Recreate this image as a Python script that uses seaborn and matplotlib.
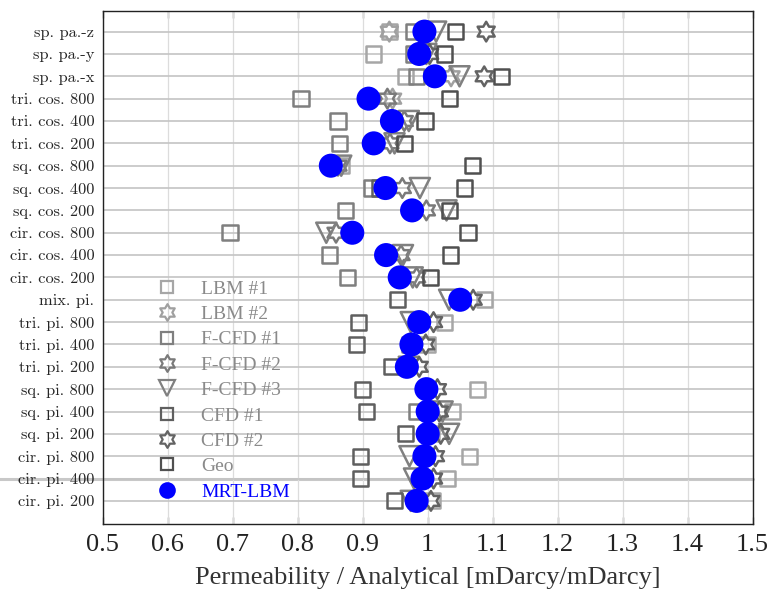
import numpy as np
import pandas as pd
import matplotlib
matplotlib.use("Agg")
import matplotlib.pyplot as plt
from matplotlib.path import Path
from matplotlib.lines import Line2D
import seaborn as sns

nan = np.nan

# Test geometries, listed top to bottom
categories = [
    "sp. pa.-z", "sp. pa.-y", "sp. pa.-x",
    "tri. cos. 800", "tri. cos. 400", "tri. cos. 200",
    "sq. cos. 800", "sq. cos. 400", "sq. cos. 200",
    "cir. cos. 800", "cir. cos. 400", "cir. cos. 200",
    "mix. pi.",
    "tri. pi. 800", "tri. pi. 400", "tri. pi. 200",
    "sq. pi. 800", "sq. pi. 400", "sq. pi. 200",
    "cir. pi. 800", "cir. pi. 400", "cir. pi. 200",
]

# Normalised permeability (simulated / analytical)
lbm1 = [0.941, 0.917, 0.966, nan, nan, nan, 0.867, nan, nan, nan, nan, nan,
        1.087, 1.026, 1.000, nan, 1.077, 1.038, 1.005, 1.064, 1.031, 1.008]
lbm2 = [0.941, nan, 1.036, 0.946, nan, nan, nan, nan, nan, nan, nan, nan,
        nan, nan, nan, nan, nan, nan, nan, nan, nan, nan]
fcfd1 = [0.979, 0.979, 0.983, 0.805, 0.862, 0.864, nan, 0.914, 0.873, 0.696, 0.849, 0.877,
         nan, nan, 0.972, nan, nan, 0.983, nan, nan, nan, nan]
fcfd2 = [nan, nan, nan, 0.938, 0.964, 0.942, 0.862, 0.961, 0.998, 0.859, 0.959, 0.983,
         nan, nan, nan, nan, nan, nan, nan, nan, nan, nan]
fcfd3 = [1.013, 0.998, 1.049, nan, 0.971, 0.949, 0.867, 0.988, 1.029, 0.844, 0.962, 0.977,
         1.033, 0.974, nan, 0.971, nan, 1.023, 1.033, 0.972, 0.979, 0.974]
cfd1 = [nan, nan, nan, nan, nan, nan, nan, 0.926, nan, nan, nan, nan,
        0.954, 0.894, 0.891, 0.945, 0.900, 0.906, 0.966, 0.897, 0.897, 0.949]
cfd2 = [1.090, 1.003, 1.087, nan, nan, nan, nan, nan, nan, nan, nan, nan,
        1.070, 1.009, 0.997, 0.987, 1.015, 1.018, 1.020, 1.012, 1.009, 1.005]
geo = [1.043, 1.026, 1.113, 1.033, 0.996, 0.964, 1.069, 1.057, 1.033, 1.062, 1.035, 1.004,
       nan, nan, nan, nan, nan, nan, nan, nan, nan, nan]
mrt = [0.995, 0.987, 1.011, 0.909, 0.945, 0.917, 0.851, 0.935, 0.976, 0.884, 0.936, 0.957,
       1.050, 0.987, 0.975, 0.968, 0.998, 1.000, 1.000, 0.995, 0.992, 0.983]

series_names = ["LBM #1", "LBM #2", "F-CFD #1", "F-CFD #2", "F-CFD #3",
                "CFD #1", "CFD #2", "Geo", "MRT-LBM"]
series_values = [lbm1, lbm2, fcfd1, fcfd2, fcfd3, cfd1, cfd2, geo, mrt]

xticks = [0.5, 0.6, 0.7, 0.8, 0.9, 1.0, 1.1, 1.2, 1.3, 1.4, 1.5]
xtick_labels = ["0.5", "0.6", "0.7", "0.8", "0.9", "1", "1.1", "1.2", "1.3", "1.4", "1.5"]

# Six-pointed star outline
ang = np.deg2rad(90 + 30 * np.arange(12))
rad = np.where(np.arange(12) % 2 == 0, 1.0, 0.58)
star_verts = np.column_stack([rad * np.cos(ang), rad * np.sin(ang)])
star_verts = np.vstack([star_verts, star_verts[:1]])
codes = [Path.MOVETO] + [Path.LINETO] * 11 + [Path.CLOSEPOLY]
hexagram = Path(star_verts, codes)

styles = {
    "LBM #1":   dict(marker="s", color="#a6a6a6", s=120),
    "LBM #2":   dict(marker=hexagram, color="#a0a0a0", s=200),
    "F-CFD #1": dict(marker="s", color="#7f7f7f", s=120),
    "F-CFD #2": dict(marker=hexagram, color="#7a7a7a", s=200),
    "F-CFD #3": dict(marker="v", color="#808080", s=210),
    "CFD #1":   dict(marker="s", color="#5f5f5f", s=120),
    "CFD #2":   dict(marker=hexagram, color="#636363", s=200),
    "Geo":      dict(marker="s", color="#505050", s=120),
    "MRT-LBM":  dict(marker="o", color="#0000ff", s=300),
}

n = len(categories)
ypos = np.arange(n, 0, -1)

sns.set_style("white")
fig = plt.figure(figsize=(7.84, 5.94), dpi=100)
ax = fig.add_axes([0.131, 0.118, 0.829, 0.863])

for name, vals in zip(series_names, series_values):
    st = styles[name]
    df = pd.DataFrame({"ratio": vals, "pos": ypos}).dropna()
    if name == "MRT-LBM":
        sns.scatterplot(data=df, x="ratio", y="pos", ax=ax, marker=st["marker"],
                        s=st["s"], color=st["color"], edgecolor="none", zorder=5,
                        legend=False)
    else:
        sns.scatterplot(data=df, x="ratio", y="pos", ax=ax, marker=st["marker"],
                        s=st["s"], facecolors="none", edgecolor=st["color"],
                        linewidth=1.8, zorder=4, legend=False)

ax.set_xlim(0.5, 1.5)
ax.set_ylim(-0.03, 22.91)
ax.set_xticks(xticks)
ax.set_xticklabels(xtick_labels, fontfamily="Liberation Serif", fontsize=19, color="#222222")
ax.set_yticks(ypos)
ax.set_yticklabels(categories, fontfamily="cmr10", fontsize=11.8)
ax.set_xlabel("Permeability / Analytical [mDarcy/mDarcy]", fontfamily="Liberation Serif",
              fontsize=19, color="#333333", labelpad=8)
ax.set_ylabel("")

ax.grid(False)
for x in xticks:
    ax.axvline(x, color="#dcdcdc", lw=0.9, zorder=1)
for y in ypos:
    ax.axhline(y, color="#c4c4c4", lw=1.2, zorder=1)
# emphasised row rule running across the tick labels
ax.plot([-0.16, 1.0], [(ypos[20] + 0.03) / 22.94] * 2, transform=ax.transAxes,
        color="#c8c8c8", lw=2.2, clip_on=False, zorder=0.5)

ax.tick_params(axis="x", direction="in", length=5, top=True, bottom=True, width=0.9, pad=7)
ax.tick_params(axis="y", length=0, pad=6)
for sp in ax.spines.values():
    sp.set_color("#222222")
    sp.set_linewidth(1.0)

handles = []
for name in series_names:
    st = styles[name]
    if name == "MRT-LBM":
        h = Line2D([], [], ls="none", marker="o", markersize=12,
                   markerfacecolor=st["color"], markeredgecolor="none")
    else:
        ms = 9 if st["marker"] == "s" else 12
        h = Line2D([], [], ls="none", marker=st["marker"], markersize=ms,
                   markerfacecolor="none", markeredgecolor=st["color"], markeredgewidth=1.6)
    handles.append(h)

leg = ax.legend(handles, series_names, loc="upper left", bbox_to_anchor=(0.05, 0.51),
                frameon=False, prop={"family": "Liberation Serif", "size": 14},
                labelspacing=0.4, handletextpad=1.0, handlelength=1.5)
for txt, name in zip(leg.get_texts(), series_names):
    txt.set_color("#0000ff" if name == "MRT-LBM" else "#8a8a8a")

fig.savefig("out.png", dpi=100)
